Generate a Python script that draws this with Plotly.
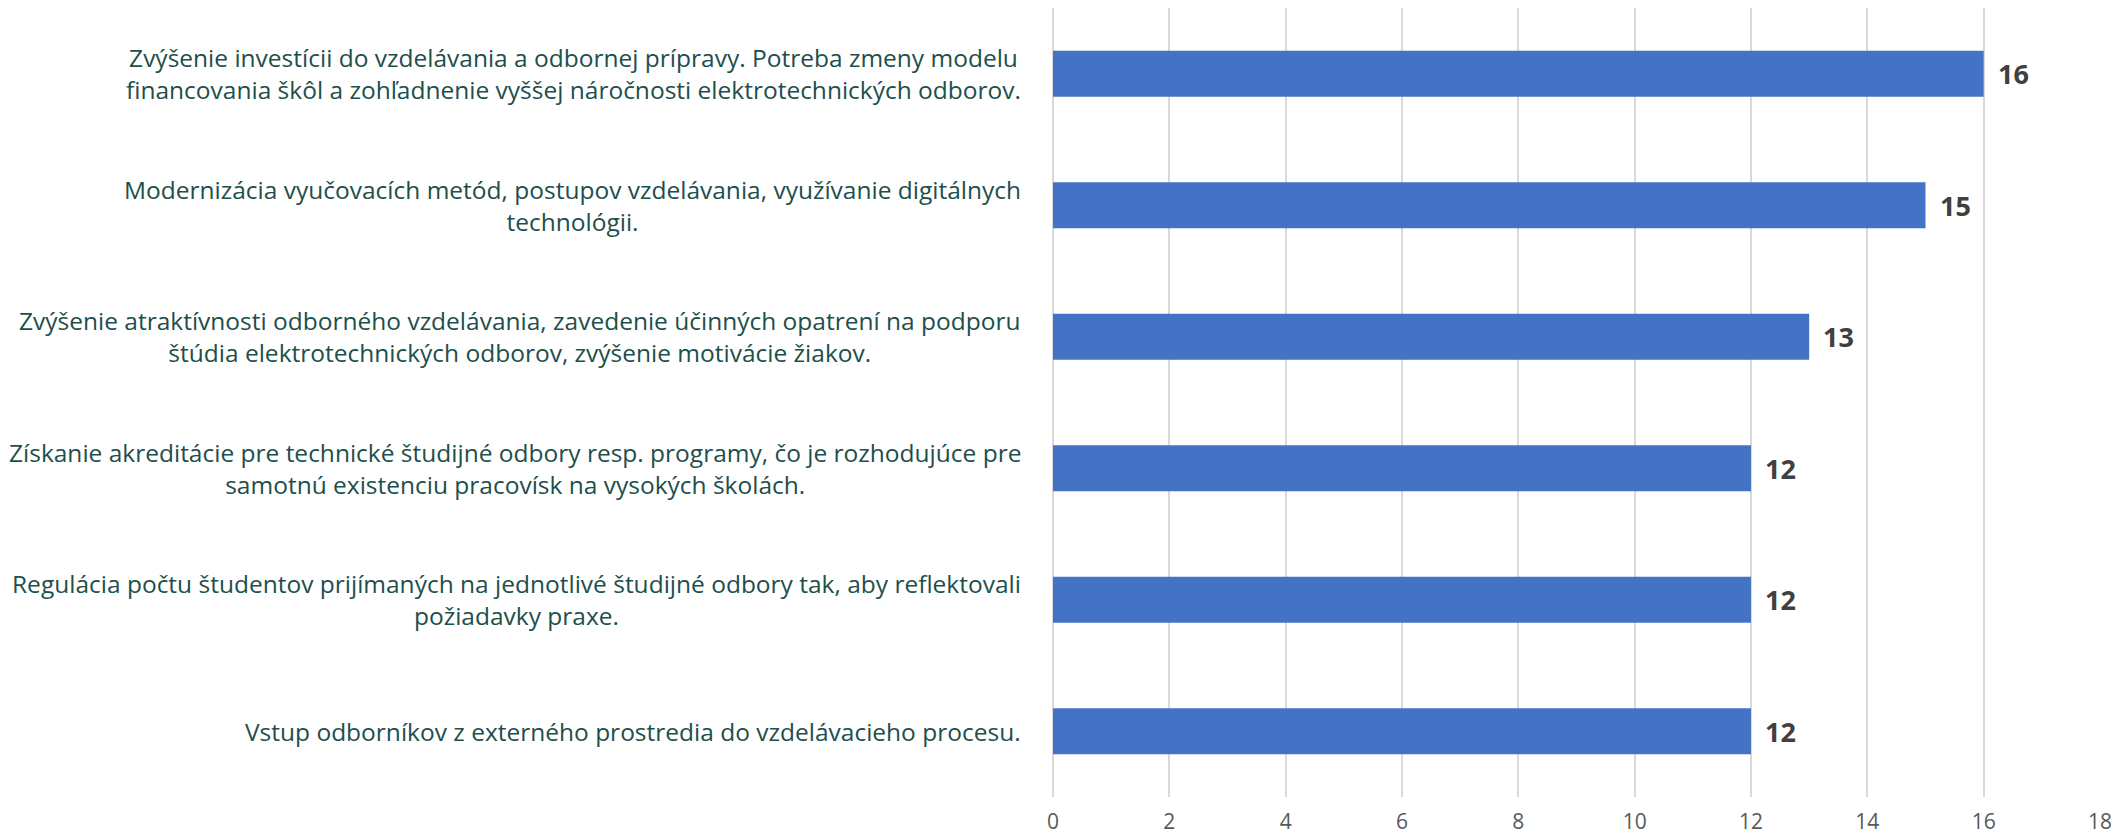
import plotly.graph_objects as go

categories = [
    "Vstup odborníkov z externého prostredia do vzdelávacieho procesu.",
    "Regulácia počtu študentov prijímaných na jednotlivé študijné odbory tak, aby reflektovali<br>požiadavky praxe.",
    "Získanie akreditácie pre technické študijné odbory resp. programy, čo je rozhodujúce pre<br>samotnú existenciu pracovísk na vysokých školách.",
    "Zvýšenie atraktívnosti odborného vzdelávania, zavedenie účinných opatrení na podporu<br>štúdia elektrotechnických odborov, zvýšenie motivácie žiakov.",
    "Modernizácia vyučovacích metód, postupov vzdelávania, využívanie digitálnych<br>technológii.",
    "Zvýšenie investícii do vzdelávania a odbornej prípravy. Potreba zmeny modelu<br>financovania škôl a zohľadnenie vyššej náročnosti elektrotechnických odborov.",
]
values = [12, 12, 12, 13, 15, 16]
x_ticks = [0, 2, 4, 6, 8, 10, 12, 14, 16, 18]

FONT = "Open Sans"

fig = go.Figure()
fig.add_trace(go.Bar(
    y=categories, x=values, orientation="h",
    marker=dict(color="#4472C4", line=dict(width=0)),
    width=0.35, hoverinfo="skip",
))

annotations = []
for c, v in zip(categories, values):
    annotations.append(dict(
        x=0, xref="paper", y=c, yref="y", xanchor="right", yanchor="middle",
        xshift=-30, text=c, showarrow=False, align="center",
        font=dict(family=FONT, size=24.5, color="#1D4F4C"),
    ))
    annotations.append(dict(
        x=v, xref="x", y=c, yref="y", xanchor="left", yanchor="middle",
        xshift=12, text="<b>%d</b>" % v, showarrow=False,
        font=dict(family=FONT, size=27, color="#404040"),
    ))

fig.update_layout(
    width=2111, height=831,
    margin=dict(l=1045, r=19, t=0, b=42, autoexpand=False),
    paper_bgcolor="white", plot_bgcolor="white",
    showlegend=False,
    annotations=annotations,
    xaxis=dict(
        range=[0, 18], tickvals=x_ticks, showgrid=True, gridcolor="#D9D9D9", gridwidth=1.5,
        zeroline=True, zerolinecolor="#D9D9D9", zerolinewidth=1.5,
        showline=False, ticks="", ticklabelstandoff=10, automargin=False,
        tickfont=dict(family=FONT, size=21, color="#595959"),
    ),
    yaxis=dict(
        categoryorder="array", categoryarray=categories,
        showticklabels=False, showgrid=False, zeroline=False, showline=False, ticks="",
        range=[-0.5, 5.5],
    ),
)

fig.write_html("out.html")
